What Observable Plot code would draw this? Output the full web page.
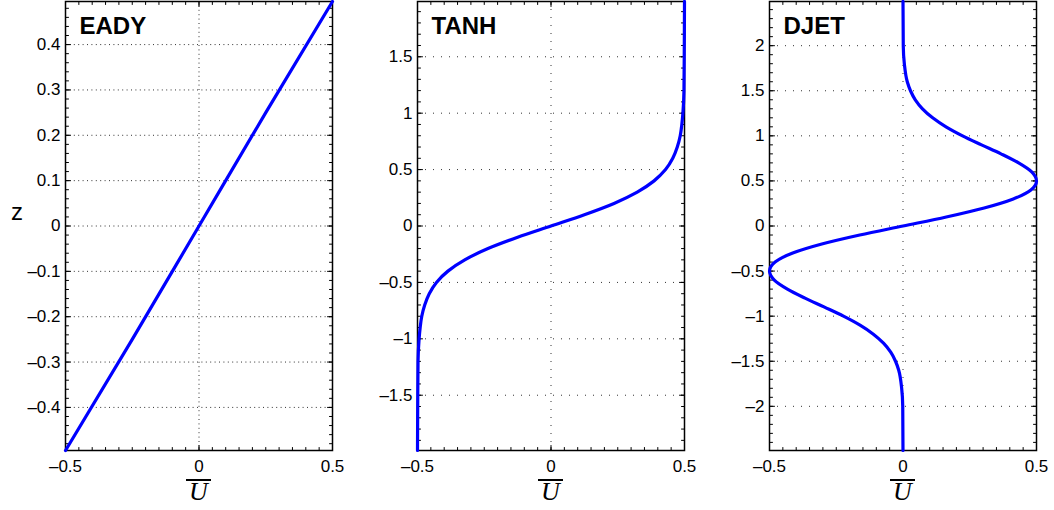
<!DOCTYPE html>
<html>
<head>
<meta charset="utf-8">
<script src="https://cdn.jsdelivr.net/npm/d3@7"></script>
<script src="https://cdn.jsdelivr.net/npm/@observablehq/plot@0.6"></script>
<style>
  body { margin: 0; background: #fff; }
  #chart { position: relative; width: 1054px; height: 510px; font-family: "Liberation Sans", Arial, sans-serif; }
  .panel { position: absolute; top: 0; width: 352px; height: 510px; }
  .panel svg { position: absolute; top: 0; left: 0; }
  .ulabel { position: absolute; top: 479px; left: 65px; width: 267px; text-align: center; }
  .ulabel span {
    display: inline-block;
    font: italic 26px "Liberation Serif", "DejaVu Serif", serif;
    border-top: 2.5px solid #000;
    padding: 0 3px;
    line-height: 22px;
  }
</style>
</head>
<body>
<div id="chart"></div>
<script>
// Mean-flow profiles U(z) for three basic states
const panelNames = ["EADY", "TANH", "DJET"];
const xLabel = "U";
const zLabel = "z";

// EADY: linear shear
const eadyZ = [-0.495, -0.25, 0, 0.25, 0.495];
const eadyU = [-0.5, -0.25, 0, 0.25, 0.5];

// TANH: hyperbolic-tangent shear layer
const tanhZ = [-1.99, -1.5, -1.2, -1.0, -0.9, -0.8, -0.7, -0.6, -0.5, -0.4, -0.3, -0.2, -0.1, 0,
               0.1, 0.2, 0.3, 0.4, 0.5, 0.6, 0.7, 0.8, 0.9, 1.0, 1.2, 1.5, 1.99];
const tanhU = [-0.5, -0.499, -0.498, -0.494, -0.49, -0.484, -0.473, -0.456, -0.429, -0.386, -0.323, -0.236, -0.125, 0,
               0.125, 0.236, 0.323, 0.386, 0.429, 0.456, 0.473, 0.484, 0.49, 0.494, 0.498, 0.499, 0.5];

// DJET: double jet
const djetZ = [-2.49, -2.0, -1.8, -1.6, -1.5, -1.4, -1.3, -1.2, -1.1, -1.0, -0.9, -0.8, -0.7, -0.6, -0.5,
               -0.4, -0.3, -0.2, -0.1, 0, 0.1, 0.2, 0.3, 0.4, 0.5, 0.6, 0.7, 0.8, 0.9, 1.0,
               1.1, 1.2, 1.3, 1.4, 1.5, 1.6, 1.8, 2.0, 2.49];
const djetU = [0, -0.001, -0.005, -0.016, -0.028, -0.046, -0.073, -0.111, -0.161, -0.223, -0.294, -0.367, -0.433, -0.482, -0.5,
               -0.479, -0.413, -0.304, -0.162, 0, 0.162, 0.304, 0.413, 0.479, 0.5, 0.482, 0.433, 0.367, 0.294, 0.223,
               0.161, 0.111, 0.073, 0.046, 0.028, 0.016, 0.005, 0.001, 0];

// Axis ticks
const xTicks = [-0.5, 0, 0.5];
const eadyTicks = [-0.4, -0.3, -0.2, -0.1, 0, 0.1, 0.2, 0.3, 0.4];
const tanhTicks = [-1.5, -1, -0.5, 0, 0.5, 1, 1.5];
const djetTicks = [-2, -1.5, -1, -0.5, 0, 0.5, 1, 1.5, 2];

const fmt = d => d < 0 ? "\u2013" + String(-d) : String(d);

// a plain stroke from the anchor point, used for inward tick marks
const tickShape = { draw(ctx, l) { ctx.moveTo(0, 0); ctx.lineTo(0, -l); } };

function frameTicks(xs, ys, xDom, yDom, len) {
  const o = { length: len, anchor: "start", shape: tickShape, stroke: "#000", strokeWidth: 1 };
  return [
    Plot.vector(ys, { ...o, x: xDom[0], y: d => d, rotate: 90 }),
    Plot.vector(ys, { ...o, x: xDom[1], y: d => d, rotate: -90 }),
    Plot.vector(xs, { ...o, x: d => d, y: yDom[0], rotate: 0 }),
    Plot.vector(xs, { ...o, x: d => d, y: yDom[1], rotate: 180 })
  ];
}

function panel({ name, z, u, zDomain, yTicks, yMinor, dash, showZ }) {
  const data = z.map((v, i) => ({ z: v, U: u[i] }));
  const xDomain = [-0.5, 0.5];
  const xMinor = d3.range(-10, 11).map(i => i * 0.05);
  return Plot.plot({
    width: 352,
    height: 475,
    marginLeft: 65,
    marginRight: 20,
    marginTop: 1,
    marginBottom: 25,
    style: { fontFamily: "'Liberation Sans', Arial, sans-serif", fontSize: "17px", background: "transparent", overflow: "visible", color: "#000" },
    x: { domain: xDomain, axis: null },
    y: { domain: zDomain, axis: null },
    marks: [
      Plot.gridY(yTicks, { stroke: "#333", strokeOpacity: 1, strokeWidth: 1, strokeDasharray: dash }),
      Plot.gridX([0], { stroke: "#333", strokeOpacity: 1, strokeWidth: 1, strokeDasharray: dash }),
      ...frameTicks(xMinor, yMinor, xDomain, zDomain, 3),
      ...frameTicks(xTicks, yTicks, xDomain, zDomain, 5),
      Plot.axisX(xTicks, { tickSize: 0, tickPadding: 9, tickFormat: fmt, fill: "#000", fontSize: 17, label: null }),
      Plot.axisY(yTicks, { tickSize: 0, tickPadding: 5, tickFormat: fmt, fill: "#000", fontSize: 17, label: null }),
      Plot.frame({ stroke: "#000", strokeWidth: 1.5 }),
      Plot.line(data, { x: "U", y: "z", stroke: "#0000ff", strokeWidth: 3.2, curve: "monotone-y" }),
      Plot.text([name], { frameAnchor: "top-left", dx: 14, dy: 32, lineAnchor: "bottom", textAnchor: "start", fontSize: 24, fontWeight: "bold", fill: "#000" }),
      showZ ? Plot.text([zLabel], { frameAnchor: "left", dx: -48.5, dy: -6, lineAnchor: "bottom", textAnchor: "middle", fontSize: 24, fill: "#000" }) : null
    ]
  });
}

const panels = [
  { name: panelNames[0], z: eadyZ, u: eadyU, zDomain: [-0.495, 0.495], yTicks: eadyTicks,
    yMinor: d3.range(-24, 25).map(i => i * 0.02), dash: "1,3.4", showZ: true },
  { name: panelNames[1], z: tanhZ, u: tanhU, zDomain: [-1.99, 1.99], yTicks: tanhTicks,
    yMinor: d3.range(-19, 20).map(i => i * 0.1), dash: "1,7", showZ: false },
  { name: panelNames[2], z: djetZ, u: djetU, zDomain: [-2.49, 2.49], yTicks: djetTicks,
    yMinor: d3.range(-24, 25).map(i => i * 0.1), dash: "1,7", showZ: false }
];

const chart = document.getElementById("chart");
panels.forEach((p, i) => {
  const div = document.createElement("div");
  div.className = "panel";
  div.style.left = (i * 352) + "px";
  div.appendChild(panel(p));
  const lab = document.createElement("div");
  lab.className = "ulabel";
  const span = document.createElement("span");
  span.textContent = xLabel;
  lab.appendChild(span);
  div.appendChild(lab);
  chart.appendChild(div);
});
</script>
</body>
</html>
